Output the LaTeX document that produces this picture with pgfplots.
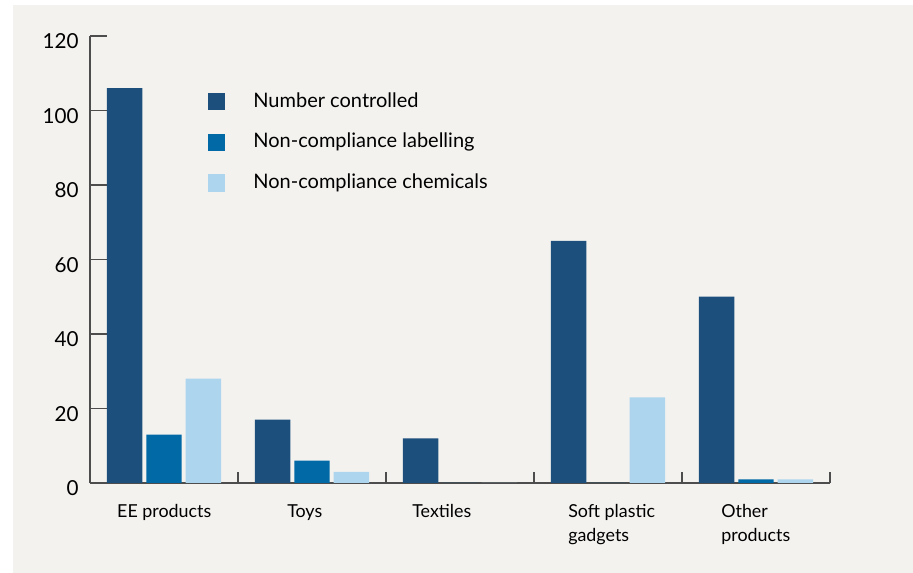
\documentclass[border=0pt]{standalone}
\usepackage{fontspec}
\setmainfont{Lato}
\usepackage{pgfplots}
\pgfplotsset{compat=1.18}
\definecolor{cdark}{HTML}{1D4F7C}
\definecolor{cmid}{HTML}{0069A6}
\definecolor{clight}{HTML}{ADD5EE}
\definecolor{panel}{HTML}{F3F2EF}
\definecolor{axisgray}{HTML}{4D4D4D}

\begin{document}
\begin{tikzpicture}
% full picture 913x573 px at 0.75pt/px; axis box lower-left at origin
\useasboundingbox (-67.5pt,-67.5pt) rectangle (617.25pt,362.25pt);
\fill[white] (-67.5pt,-67.5pt) rectangle (617.25pt,362.25pt);
\fill[panel] (-57.75pt,-67.5pt) rectangle (617.25pt,358.5pt);
\begin{axis}[
  at={(0,0)}, anchor=south west,
  scale only axis,
  width=555pt, height=335.25pt,
  ybar=3pt,
  bar width=26.6pt,
  xmin=-0.5, xmax=4.5,
  ymin=0, ymax=120,
  ytick={0,20,...,120},
  xtick={-0.5,0.5,...,4.5},
  xticklabels={},
  axis x line*=bottom,
  axis y line*=left,
  axis line style={-, axisgray, line width=0.9pt},
  tick style={axisgray, line width=0.9pt},
  tick align=inside,
  major tick length=13pt,
  xtick style={/pgfplots/major tick length=8.25pt},
  yticklabel style={font=\fontsize{15.5}{17}\selectfont, xshift=-5pt, yshift=-4pt},
  /pgf/number format/assume math mode=true,
  clip=false,
  legend cell align=left,
  legend image code/.code={\fill[#1] (0pt,-6.4pt) rectangle (12.8pt,6.4pt);},
  legend style={
    at={(0.1595,0.873)}, anchor=north west,
    draw=none, fill=none, inner sep=0pt,
    font=\fontsize{15}{17}\selectfont,
    row sep=17.5pt,
    nodes={inner sep=0pt, text height=10.5pt, text depth=2.5pt},
    /tikz/every odd column/.append style={column sep=21pt},
  },
]
\addplot[fill=cdark, draw=none] coordinates {(0,106) (1,17) (2,12) (3,65) (4,50)};
\addplot[fill=cmid, draw=none] coordinates {(0,13) (1,6) (2,0) (3,0) (4,1)};
\addplot[fill=clight, draw=none] coordinates {(0,28) (1,3) (2,0) (3,23) (4,1)};
\legend{Number controlled, Non-compliance labelling, Non-compliance chemicals}

\begin{scope}[every node/.style={anchor=north west, inner sep=0pt, align=left,
    font=\fontsize{13.4}{18}\selectfont, yshift=-16pt}]
\node at (axis cs:-0.318,0) {EE products};
\node at (axis cs:0.831,0) {Toys};
\node at (axis cs:1.676,0) {Textiles};
\node at (axis cs:2.730,0) {Soft plastic\\gadgets};
\node at (axis cs:3.764,0) {Other\\products};
\end{scope}
\end{axis}
\end{tikzpicture}
\end{document}
